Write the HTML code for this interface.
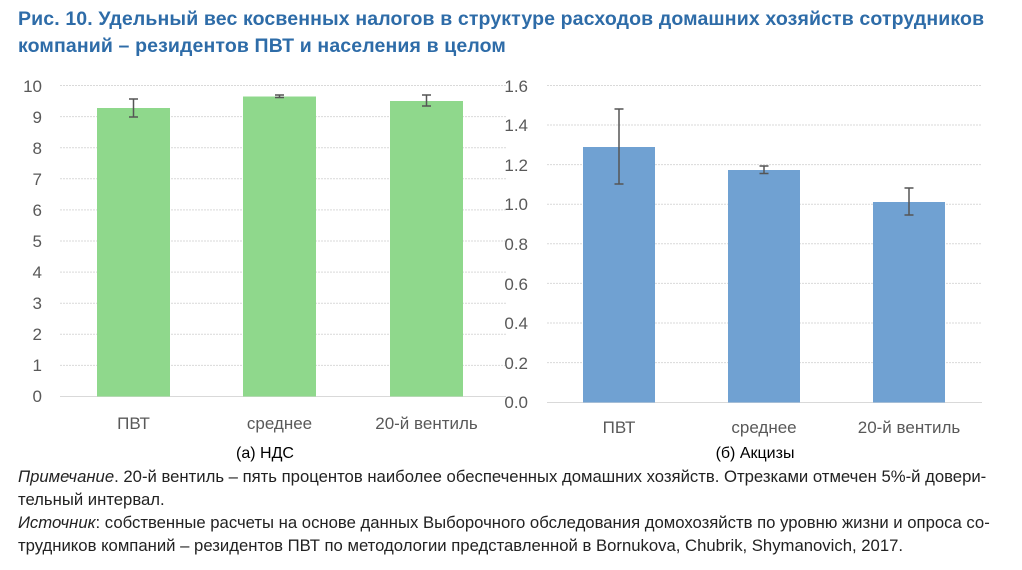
<!DOCTYPE html>
<html><head><meta charset="utf-8"><style>
body{margin:0;width:1022px;height:570px;background:#fff;overflow:hidden;font-family:"Liberation Sans","DejaVu Sans",sans-serif}
.t{position:absolute;left:18px;color:#2e6ca8;font-size:19.5px;font-weight:bold;white-space:nowrap;letter-spacing:0.13px}
.n{position:absolute;left:18px;font-size:16.7px;color:#222;white-space:nowrap}
</style></head><body>
<div class="t" style="top:8px">Рис. 10. Удельный вес косвенных налогов в структуре расходов домашних хозяйств сотрудников</div>
<div class="t" style="top:35px">компаний – резидентов ПВТ и населения в целом</div>
<svg width="1022" height="570" style="position:absolute;left:0;top:0" font-family="Liberation Sans, sans-serif">
<g stroke="#d9d9d9" stroke-width="1" stroke-dasharray="2,1">
<line x1="60" x2="506" y1="85.5" y2="85.5"/><line x1="60" x2="506" y1="116.6" y2="116.6"/><line x1="60" x2="506" y1="147.7" y2="147.7"/><line x1="60" x2="506" y1="178.8" y2="178.8"/><line x1="60" x2="506" y1="209.9" y2="209.9"/><line x1="60" x2="506" y1="241" y2="241"/><line x1="60" x2="506" y1="272.1" y2="272.1"/><line x1="60" x2="506" y1="303.2" y2="303.2"/><line x1="60" x2="506" y1="334.3" y2="334.3"/><line x1="60" x2="506" y1="365.4" y2="365.4"/>
<line x1="547" x2="982" y1="85.5" y2="85.5"/><line x1="547" x2="982" y1="125" y2="125"/><line x1="547" x2="982" y1="164.6" y2="164.6"/><line x1="547" x2="982" y1="204.2" y2="204.2"/><line x1="547" x2="982" y1="243.8" y2="243.8"/><line x1="547" x2="982" y1="283.4" y2="283.4"/><line x1="547" x2="982" y1="323" y2="323"/><line x1="547" x2="982" y1="362.6" y2="362.6"/>
</g>
<line x1="60" x2="506" y1="396.5" y2="396.5" stroke="#d9d9d9"/>
<line x1="547" x2="982" y1="402.5" y2="402.5" stroke="#d9d9d9"/>
<g font-size="17" fill="#595959" text-anchor="end">
<text x="42" y="92">10</text><text x="42" y="123">9</text><text x="42" y="154">8</text><text x="42" y="185">7</text><text x="42" y="216">6</text><text x="42" y="247">5</text><text x="42" y="278">4</text><text x="42" y="309">3</text><text x="42" y="340">2</text><text x="42" y="371">1</text><text x="42" y="402">0</text>
<text x="528" y="92">1.6</text><text x="528" y="131">1.4</text><text x="528" y="171">1.2</text><text x="528" y="210">1.0</text><text x="528" y="250">0.8</text><text x="528" y="290">0.6</text><text x="528" y="329">0.4</text><text x="528" y="369">0.2</text><text x="528" y="408">0.0</text>
</g>
<g fill="#8fd88c">
<rect x="97" y="108" width="73" height="288.5"/><rect x="243" y="96.5" width="73" height="300"/><rect x="390" y="101" width="73" height="295.5"/>
</g>
<g fill="#70a1d2">
<rect x="583" y="147" width="72" height="255.5"/><rect x="728" y="170" width="72" height="232.5"/><rect x="873" y="202" width="72" height="200.5"/>
</g>
<g stroke="#555" stroke-width="1.5" fill="none">
<path d="M133.5 99V117M129 99h9M129 117h9"/><path d="M279.5 95V97.5M275 95h9M275 97.5h9"/><path d="M426.5 95V106M422 95h9M422 106h9"/>
<path d="M619 109V184M614.5 109h9M614.5 184h9"/><path d="M764 166V173.5M759.5 166h9M759.5 173.5h9"/><path d="M909 188V215M904.5 188h9M904.5 215h9"/>
</g>
<g font-size="17" fill="#595959" text-anchor="middle">
<text x="133.5" y="429">ПВТ</text><text x="279.5" y="429">среднее</text><text x="426.5" y="429">20-й вентиль</text>
<text x="619" y="433">ПВТ</text><text x="764" y="433">среднее</text><text x="909" y="433">20-й вентиль</text>
</g>
<g font-size="16" fill="#000" text-anchor="middle">
<text x="265" y="458">(а) НДС</text><text x="755" y="458">(б) Акцизы</text>
</g>
</svg>
<div class="n" style="top:467px"><i>Примечание</i>. 20-й вентиль – пять процентов наиболее обеспеченных домашних хозяйств. Отрезками отмечен 5%-й довери-</div>
<div class="n" style="top:490px">тельный интервал.</div>
<div class="n" style="top:513px"><i>Источник</i>: собственные расчеты на основе данных Выборочного обследования домохозяйств по уровню жизни и опроса со-</div>
<div class="n" style="top:536px">трудников компаний – резидентов ПВТ по методологии представленной в Bornukova, Chubrik, Shymanovich, 2017.</div>
</body></html>
